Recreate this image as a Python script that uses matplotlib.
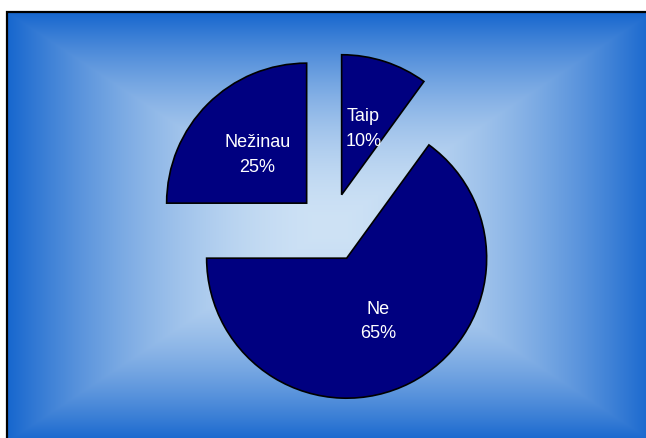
import numpy as np
import matplotlib
matplotlib.use('Agg')
import matplotlib.pyplot as plt

# data
labels = ['Taip', 'Ne', 'Nežinau']
values = [10, 65, 25]

plt.rcParams['font.family'] = ['Liberation Sans', 'DejaVu Sans']

W, H = 646, 439
fig = plt.figure(figsize=(W / 100, H / 100), dpi=100)
fig.patch.set_facecolor('white')

# background frame with rectangular "from center" gradient
# (frame runs past the right and bottom edge of the picture)
bg = fig.add_axes([0, 0, 1, 1])
x0, y0, x1, y1 = 7, 13, 653, 443
xs = np.arange(x0, W) + 0.5
ys = np.arange(y0, H) + 0.5
uu, vv = np.meshgrid((xs - (x0 + x1) / 2) / ((x1 - x0) / 2),
                     (ys - (y0 + y1) / 2) / ((y1 - y0) / 2))
t = np.maximum(np.abs(uu), np.abs(vv)) ** 1.8
c_mid = np.array([206, 226, 245]) / 255
c_edge = np.array([22, 102, 206]) / 255
img = c_mid[None, None, :] * (1 - t[..., None]) + c_edge[None, None, :] * t[..., None]
bg.imshow(img, extent=(x0, W, H, y0), aspect='auto', interpolation='nearest')
bg.plot([x0, x0, W + 5], [H + 5, y0, y0], color='black', linewidth=1.6,
        solid_joinstyle='miter')
bg.set_xlim(0, W)
bg.set_ylim(H, 0)
bg.axis('off')

# pie
cx, cy, r = 331, 228.5, 140
half = 200
ax = fig.add_axes([(cx - half) / W, (H - cy - half) / H, 2 * half / W, 2 * half / H])
wedges, texts = ax.pie(values, startangle=90, counterclock=False,
                       explode=[0.246] * 3, colors=['#000080'] * 3,
                       labels=[f'{l}\n{v}%' for l, v in zip(labels, values)],
                       labeldistance=0.5,
                       wedgeprops=dict(edgecolor='black', linewidth=1.2),
                       textprops=dict(color='white', fontsize=13, linespacing=1.6))
for t_ in texts:
    t_.set_ha('center')
    t_.set_va('center')
ax.set_xlim(-half / r, half / r)
ax.set_ylim(-half / r, half / r)
ax.axis('off')

fig.savefig('out.png', dpi=100)
